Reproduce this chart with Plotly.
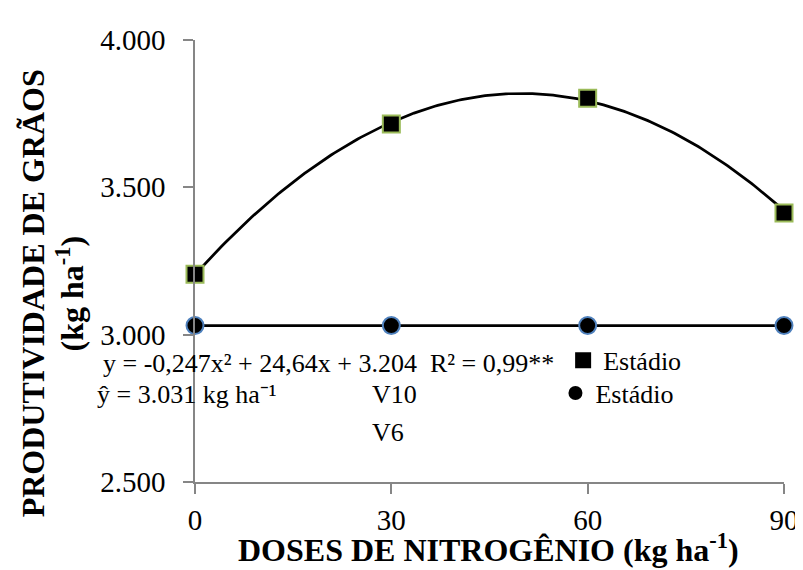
import numpy as np
import plotly.graph_objects as go

# ---- data ----
doses = [0, 30, 60, 90]                       # kg ha-1
v10_yield = [3205, 3715, 3802, 3413]          # Estádio V10 (kg ha-1)
v6_yield = [3031, 3031, 3031, 3031]           # Estádio V6 (kg ha-1)
v10_fit_coeffs = [-0.247, 24.64, 3204]        # y = -0,247x² + 24,64x + 3.204
v6_mean = 3031                                # ŷ = 3.031
x_ticks = [0, 30, 60, 90]
y_ticks = [2500, 3000, 3500, 4000]
y_tick_text = ["2.500", "3.000", "3.500", "4.000"]

FONT = "Liberation Serif"
AXIS_GRAY = "#868686"

x_fit = np.linspace(min(doses), max(doses), 200)
y_fit = np.polyval(v10_fit_coeffs, x_fit)

fig = go.Figure()
fig.add_trace(go.Scatter(x=x_fit, y=y_fit, mode="lines",
                         line=dict(color="black", width=2.75),
                         showlegend=False, hoverinfo="skip"))
fig.add_trace(go.Scatter(x=[doses[0], doses[-1]], y=[v6_mean, v6_mean], mode="lines",
                         line=dict(color="black", width=2.75),
                         showlegend=False, hoverinfo="skip"))
fig.add_trace(go.Scatter(x=doses, y=v10_yield, mode="markers", cliponaxis=False,
                         marker=dict(symbol="square", size=17, color="black",
                                     line=dict(color="#9BBB59", width=2)),
                         showlegend=False))
fig.add_trace(go.Scatter(x=doses, y=v6_yield, mode="markers", cliponaxis=False,
                         marker=dict(symbol="circle", size=17, color="black",
                                     line=dict(color="#4F81BD", width=2)),
                         showlegend=False))
# legend entries
fig.add_trace(go.Scatter(x=[None], y=[None], mode="markers", name="Estádio",
                         marker=dict(symbol="square", size=16, color="black"),
                         legend="legend"))
fig.add_trace(go.Scatter(x=[None], y=[None], mode="markers", name="Estádio",
                         marker=dict(symbol="circle", size=14, color="black"),
                         legend="legend2"))

txt_font = dict(family=FONT, size=26, color="black")
annots = [
    dict(text="y = -0,247x² + 24,64x + 3.204  R² = 0,99**", x=-0.160, y=0.268),
    dict(text="ŷ = 3.031 kg ha⁻¹", x=-0.170, y=0.198),
    dict(text="V10", x=0.297, y=0.197),
    dict(text="V6", x=0.297, y=0.113),
]
annotations = [dict(xref="paper", yref="paper", xanchor="left", yanchor="middle",
                    showarrow=False, font=txt_font, **a) for a in annots]
title_font = dict(family=FONT, size=32, color="black")
annotations.append(dict(text="<b>DOSES DE NITROGÊNIO (kg ha<sup>-1</sup>)</b>",
                        xref="paper", yref="paper", x=0.498, y=-0.150,
                        xanchor="center", yanchor="middle", showarrow=False,
                        font=title_font))
annotations.append(dict(text="<b>PRODUTIVIDADE DE GRÃOS</b>",
                        xref="paper", yref="paper", x=-0.275, y=0.427,
                        xanchor="center", yanchor="middle", textangle=-90,
                        showarrow=False, font=title_font))
annotations.append(dict(text="<b>(kg ha<sup>-1</sup>)</b>",
                        xref="paper", yref="paper", x=-0.212, y=0.427,
                        xanchor="center", yanchor="middle", textangle=-90,
                        showarrow=False, font=title_font))

leg_common = dict(bgcolor="rgba(0,0,0,0)", borderwidth=0,
                  font=dict(family=FONT, size=26, color="black"),
                  xanchor="left", yanchor="middle")

fig.update_layout(
    width=803, height=570,
    margin=dict(l=187, r=16, t=32, b=96),
    paper_bgcolor="white", plot_bgcolor="white",
    font=dict(family=FONT, color="black"),
    showlegend=True,
    legend=dict(x=0.625, y=0.275, **leg_common),
    legend2=dict(x=0.612, y=0.201, **leg_common),
    annotations=annotations,
    xaxis=dict(range=[0, 90], tickvals=x_ticks, ticktext=[str(v) for v in x_ticks],
               showgrid=False, zeroline=False, showline=True, linecolor=AXIS_GRAY,
               linewidth=1.5, ticks="outside", ticklen=10, tickwidth=1.5,
               tickcolor=AXIS_GRAY, tickfont=dict(family=FONT, size=29, color="black"),
               ticklabelstandoff=1),
    yaxis=dict(range=[2500, 4000], tickvals=y_ticks, ticktext=y_tick_text,
               showgrid=False, zeroline=False, showline=True, linecolor=AXIS_GRAY,
               linewidth=1.5, ticks="outside", ticklen=10, tickwidth=1.5,
               tickcolor=AXIS_GRAY, tickfont=dict(family=FONT, size=29, color="black"),
               ticklabelstandoff=12),
)

fig.write_html("out.html")
